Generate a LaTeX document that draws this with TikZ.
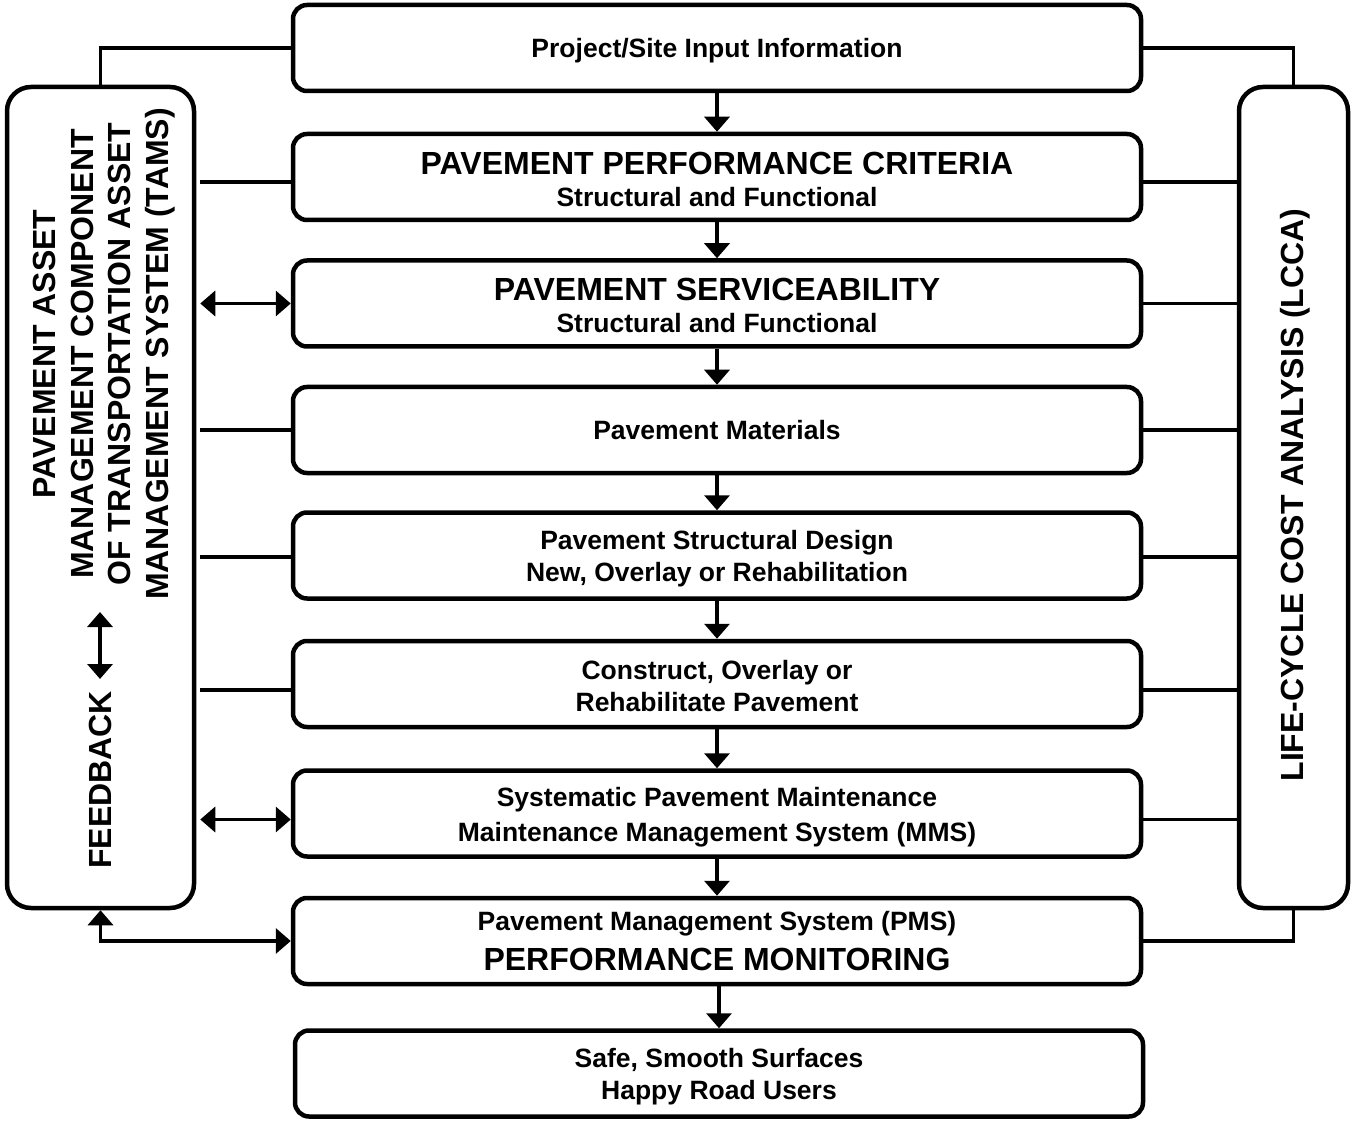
\documentclass[tikz,border=0pt]{standalone}
\usepackage{fontspec}
\setmainfont{Liberation Sans}
\usetikzlibrary{arrows.meta}
\newcommand\stagefont{\fontsize{26.5}{32}\selectfont\bfseries}
\newcommand\headfont{\fontsize{32}{37.5}\selectfont\bfseries}
\begin{document}
\begin{tikzpicture}[x=1pt,y=-1pt,
  stage/.style={draw, line width=4.5pt, rounded corners=14pt, minimum width=848pt,
    minimum height=86pt, inner sep=0pt},
  stagetext/.style={align=center, font=\stagefont, inner sep=0pt},
  side/.style={draw, line width=4.5pt, rounded corners=24pt, inner sep=0pt},
  link/.style={line width=3.5pt},
  tip/.tip={Triangle[width=25pt,length=15pt]},
  flow/.style={line width=3.5pt, -tip},
  dflow/.style={line width=3.5pt, tip-tip},
  vlabel/.style={rotate=90, align=center, font=\headfont, inner sep=0pt}]
\useasboundingbox (0,0) rectangle (1353,1123);

% central chain of stages
\node[stage] (b1) at (717,48)    {};
\node[stage] (b2) at (717,177)   {};
\node[stage] (b3) at (717,303.5) {};
\node[stage] (b4) at (717,430)   {};
\node[stage] (b5) at (717,555.5) {};
\node[stage] (b6) at (717,684)   {};
\node[stage] (b7) at (717,813.5) {};
\node[stage] (b8) at (717,941)   {};
\node[stage] (b9) at (719,1073.5){};

% stage captions (positive yshift moves up, so negative values lower the text)
\node[stagetext] (t1) at ([yshift=-3pt]b1.center) {Project/Site Input Information};
\node[stagetext] (t2) at ([yshift=-2pt]b2.center) {{\headfont PAVEMENT PERFORMANCE CRITERIA}\\Structural and Functional};
\node[stagetext] (t3) at ([yshift=-1.5pt]b3.center) {{\headfont PAVEMENT SERVICEABILITY}\\Structural and Functional};
\node[stagetext] (t4) at (b4.center) {Pavement Materials};
\node[stagetext] (t5) at ([yshift=-3pt]b5.center) {Pavement Structural Design\\New, Overlay or Rehabilitation};
\node[stagetext] (t6) at ([yshift=-2pt]b6.center) {Construct, Overlay or\\Rehabilitate Pavement};
\node[stagetext] (t7) at ([yshift=-3.5pt]b7.center) {Systematic Pavement Maintenance\\[3pt]Maintenance Management System (MMS)};
\node[stagetext] (t8) at (b8.center) {Pavement Management System (PMS)\\[8pt]{\headfont PERFORMANCE MONITORING}};
\node[stagetext] (t9) at ([yshift=-3pt]b9.center) {Safe, Smooth Surfaces\\Happy Road Users};

% side frames
\node[side, minimum width=187pt, minimum height=821pt] (lbox) at (100.5,497.5) {};
\node[side, minimum width=109pt, minimum height=821pt] (rbox) at (1293.5,497.5) {};

\node[vlabel] (tams) at (104,354) {PAVEMENT ASSET\\MANAGEMENT COMPONENT\\OF TRANSPORTATION ASSET\\MANAGEMENT SYSTEM (TAMS)};
\node[vlabel] (feedback) at (100,780) {FEEDBACK};
\node[vlabel] (lcca) at (1295,495) {LIFE-CYCLE COST ANALYSIS (LCCA)};

\coordinate (fbtop) at (100,612);
\coordinate (fbbot) at (100,679);
\draw[dflow] (fbtop) -- (fbbot);

% flow between stages
\foreach \a/\b in {b1/b2,b2/b3,b3/b4,b4/b5,b5/b6,b6/b7,b7/b8}
  \draw[flow] (\a.south) -- (\b.north);
\draw[flow] (b8.south -| b9.north) -- (b9.north);

% attachment points of the side links on each stage
\foreach \b/\d in {b2/-5,b3/0,b4/0,b5/-1.5,b6/-6,b7/-6}{
  \coordinate (\b l) at ([yshift=\d pt]\b.west);
  \coordinate (\b r) at ([yshift=\d pt]\b.east);
}

% links to the side frames
\draw[link] (lbox.north) |- (b1.west);
\draw[link] (rbox.north) |- (b1.east);
\foreach \b in {b2,b4,b5,b6}
  \draw[link, shorten <=4pt] (lbox.east |- \b l) -- (\b l);
\foreach \b in {b3,b7}
  \draw[dflow, shorten <=4pt] (lbox.east |- \b l) -- (\b l);
\foreach \b in {b2,b3,b4,b5,b6,b7}
  \draw[link] (\b r) -- (rbox.west |- \b r);
\draw[dflow] (lbox.south) |- (b8.west);
\draw[link] (rbox.south) |- (b8.east);
\end{tikzpicture}
\end{document}
